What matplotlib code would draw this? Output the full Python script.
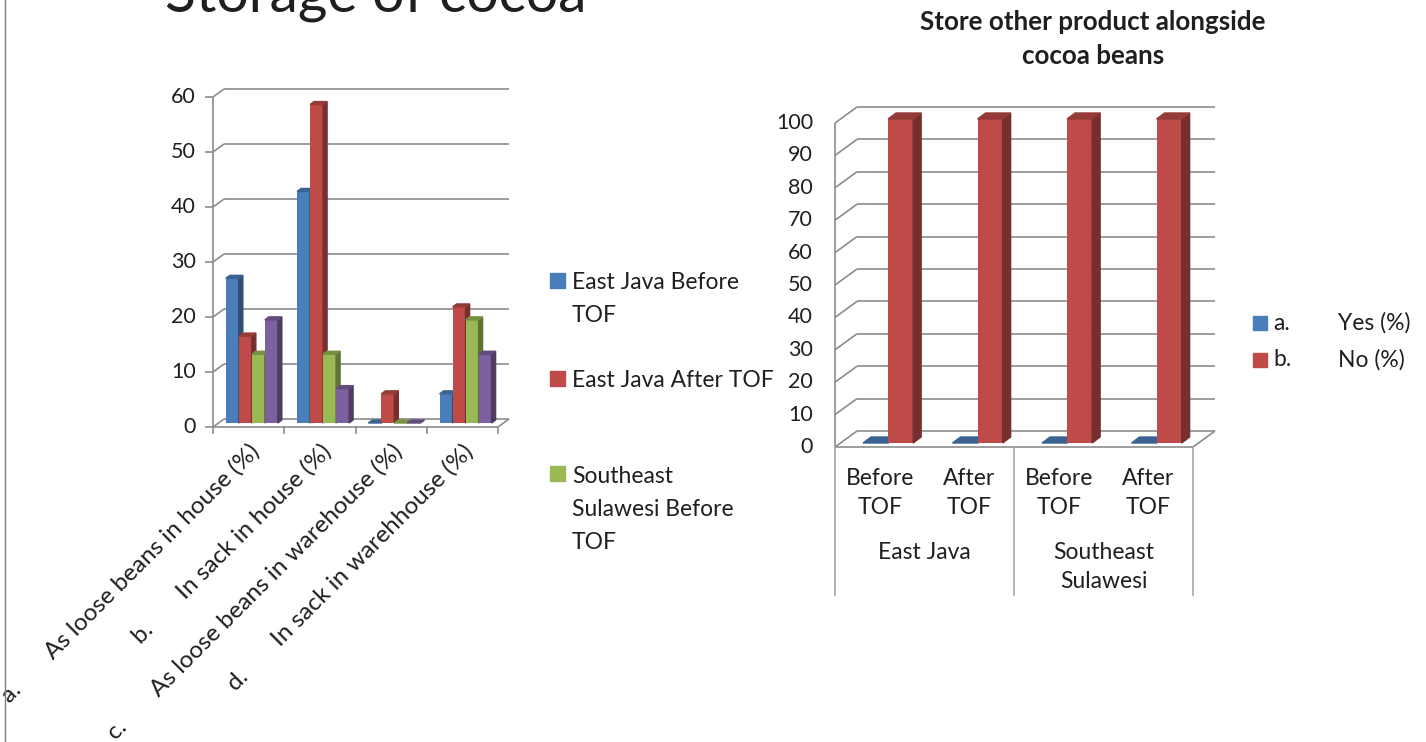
import numpy as np
import matplotlib
matplotlib.use('Agg')
import matplotlib.pyplot as plt
from matplotlib.patches import Polygon, Rectangle
from matplotlib.lines import Line2D
from matplotlib.colors import to_rgb

plt.rcParams['font.family'] = ['Lato', 'DejaVu Sans']
plt.rcParams['text.color'] = '#1f1f1f'

# ---- data: storage of cocoa (%)
storage_title = 'Storage of cocoa'
storage_cats = ['a.\tAs loose beans in house (%)', 'b.\tIn sack in house (%)',
                'c.\tAs loose beans in warehouse (%)', 'd.\tIn sack in warehhouse (%)']
storage_series = ['East Java Before\nTOF', 'East Java After TOF',
                  'Southeast\nSulawesi Before\nTOF', 'Southeast Sulawesi After TOF']
ej_before = [26.3, 42.1, 0, 5.3]
ej_after = [15.8, 57.9, 5.3, 21.1]
ss_before = [12.5, 12.5, 0, 18.75]
ss_after = [18.75, 6.25, 0, 12.5]
storage_ticks = [0, 10, 20, 30, 40, 50, 60]

# ---- data: store other product alongside cocoa beans (%)
other_title = 'Store other product alongside\ncocoa beans'
other_regions = ['East Java', 'Southeast\nSulawesi']
other_periods = ['Before\nTOF', 'After\nTOF']
other_series = ['a.\tYes (%)', 'b.\tNo (%)']
other_yes = [0, 0, 0, 0]
other_no = [100, 100, 100, 100]
other_ticks = [0, 10, 20, 30, 40, 50, 60, 70, 80, 90, 100]

BLUE, RED, GREEN, PURPLE = '#4a7ebb', '#be4b48', '#98b954', '#7d60a0'
GRID = '#8c8c8c'
LW = 1.2
FS = 16.5

W, H = 1426, 742
fig = plt.figure(figsize=(W / 100, H / 100), dpi=100)


def px_axes(x0, y0, x1, y1):
    # pixel box (top-left origin) -> axes
    ax = fig.add_axes([x0 / W, 1 - y1 / H, (x1 - x0) / W, (y1 - y0) / H])
    ax.axis('off')
    return ax


def px2data(ax, px, py):
    inv = ax.transData.inverted()
    a, b = inv.transform([(0, 0), (px, py)])
    return b - a


def shade(c, f):
    return tuple(v * f for v in to_rgb(c))


def frame3d(ax, ticks, ncat, wall, tick_len, label_pad, fs):
    wx, wy = px2data(ax, *wall)
    tl = px2data(ax, tick_len, 0)[0]
    lp = px2data(ax, label_pad, 0)[0]
    kw = dict(color=GRID, lw=LW, clip_on=False, solid_capstyle='butt', zorder=1)
    for t in ticks:
        ax.plot([wx, ncat + wx], [t + wy, t + wy], **kw)
        ax.plot([0, wx], [t, t + wy], **kw)
        if tick_len:
            ax.plot([-tl, 0], [t, t], **kw)
        ax.text(-lp, t, f'{t}', ha='right', va='center', fontsize=fs)
    ax.plot([0, 0], [0, ticks[-1]], **kw)
    ax.plot([0, ncat], [0, 0], **kw)
    ax.plot([ncat, ncat + wx], [0, wy], **kw)


def bar3d(ax, x, w, h, lift, depth, color, z):
    y0 = px2data(ax, 0, lift)[1]
    dx, dy = px2data(ax, *depth)
    y1 = y0 + h
    ax.bar(x, h, width=w, bottom=y0, align='edge', color=color, zorder=z, clip_on=False)
    ax.add_patch(Polygon([(x + w, y0), (x + w + dx, y0 + dy), (x + w + dx, y1 + dy), (x + w, y1)],
                         closed=True, color=shade(color, 0.62), zorder=z, clip_on=False))
    ax.add_patch(Polygon([(x, y1), (x + dx, y1 + dy), (x + w + dx, y1 + dy), (x + w, y1)],
                         closed=True, color=shade(color, 0.78), zorder=z, clip_on=False))


# slide border line on the left
fig.add_artist(Line2D([5 / W, 5 / W], [0, 1], color='#7f7f7f', lw=1))

# ================= left chart =================
fig.text(165 / W, 1 - 12 / H, storage_title, fontsize=41, va='baseline', ha='left')

ax1 = px_axes(213, 97, 498, 427)
ax1.set_xlim(0, len(storage_cats))
ax1.set_ylim(0, storage_ticks[-1])
frame3d(ax1, storage_ticks, len(storage_cats), (11, 8), 8, 17, 15.5)

series1 = [ej_before, ej_after, ss_before, ss_after]
colors1 = [BLUE, RED, GREEN, PURPLE]
bw, start = 0.1825, 0.18
z = 2
for i in range(len(storage_cats)):
    for j, vals in enumerate(series1):
        bar3d(ax1, i + start + j * bw, bw, vals[i], 4, (4, 3), colors1[j], z)
        z += 1

# x ticks on the front edge
tk = px2data(ax1, 0, -6)[1]
for i in range(len(storage_cats) + 1):
    ax1.plot([i, i], [0, tk], color=GRID, lw=LW, clip_on=False)

ox, oy = px2data(ax1, 0, -13)
for i, lab in enumerate(storage_cats):
    ax1.text(i + 0.5 + ox, oy, lab.replace('\t', ' ' * 7), rotation=45, rotation_mode='anchor',
             ha='right', va='top', fontsize=17.5)

# legend (only the first three entries are visible in the source)
for lab, c, yc in zip(storage_series[:3], colors1[:3], [280, 378, 474]):
    fig.add_artist(Rectangle((550 / W, 1 - (yc + 7.5) / H), 15 / W, 15 / H,
                             transform=fig.transFigure, color=c))
    fig.text(572 / W, 1 - (yc - 8) / H, lab, fontsize=FS, va='top', ha='left', linespacing=1.72)

# ================= right chart =================
fig.text(1093 / W, 1 - 39 / H, other_title, fontsize=18.7, fontweight='bold',
         ha='center', va='center', linespacing=1.45)

ax2 = px_axes(835, 123, 1193, 447)
ncat2 = len(other_regions) * len(other_periods)
ax2.set_xlim(0, ncat2)
ax2.set_ylim(0, other_ticks[-1])
frame3d(ax2, other_ticks, ncat2, (22, 16), 0, 22, 15.5)

bw2, start2 = 0.28, 0.313
z = 2
for i in range(ncat2):
    bar3d(ax2, i + start2, bw2, other_yes[i], 4, (8, 6), BLUE, z)
    bar3d(ax2, i + start2 + bw2, bw2, other_no[i], 4, (8, 6), RED, z + 1)
    z += 2

# two-level category axis
sep = px2data(ax2, 0, -148)[1]
for x in range(0, ncat2 + 1, len(other_periods)):
    ax2.plot([x, x], [0, sep], color='#a6a6a6', lw=LW, clip_on=False)
for i in range(ncat2):
    ax2.annotate(other_periods[i % len(other_periods)], xy=(i + 0.5, 0), xytext=(0, -21 * 0.72),
                 textcoords='offset points', ha='center', va='top', fontsize=FS,
                 linespacing=1.5)
for g, reg in enumerate(other_regions):
    ax2.annotate(reg, xy=(g * len(other_periods) + len(other_periods) / 2, 0),
                 xytext=(0, -95 * 0.72), textcoords='offset points', ha='center', va='top',
                 fontsize=FS, linespacing=1.5)

# legend
for lab, c, yc in zip(other_series, [BLUE, RED], [323, 360]):
    fig.add_artist(Rectangle((1253 / W, 1 - (yc + 7) / H), 14 / W, 14 / H,
                             transform=fig.transFigure, color=c))
    key, name = lab.split('\t')
    fig.text(1273 / W, 1 - yc / H, key, fontsize=FS, va='center', ha='left')
    fig.text(1338 / W, 1 - yc / H, name, fontsize=FS, va='center', ha='left')

fig.savefig('out.png', dpi=100, facecolor='white')
